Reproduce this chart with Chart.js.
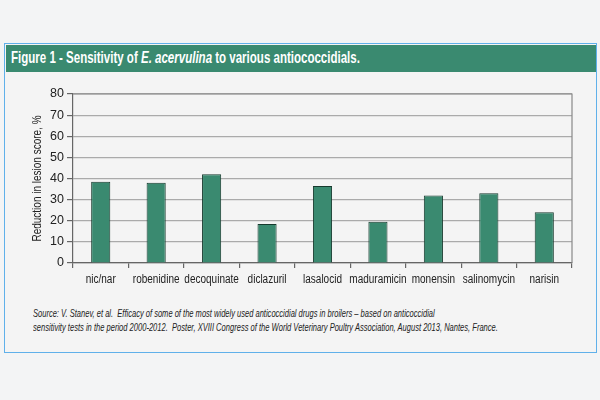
<!DOCTYPE html>
<html><head><meta charset="utf-8">
<script src="https://cdn.jsdelivr.net/npm/chart.js@4"></script>
<style>
html,body{margin:0;padding:0;width:600px;height:400px;background:#f3f4f5;overflow:hidden}
#panel{position:absolute;left:4px;top:43px;width:593px;height:310px;border:1.5px solid #5fb0ea;background:#f4f4f4;box-sizing:border-box}
#head{position:absolute;left:5.5px;top:44.5px;width:590px;height:27px;background:#3a8a70}
.sx{position:absolute;white-space:nowrap;transform-origin:0 50%}
#htxt{left:11px;top:58px;transform:translateY(-50%);color:#fff;font:bold 17px 'Liberation Sans',Arial,sans-serif;line-height:20px}
.src{left:33px;font:italic 11px 'Liberation Sans',Arial,sans-serif;line-height:14px;color:#222}
#wrap{position:absolute;left:0;top:0;width:600px;height:400px}
</style></head>
<body>
<div id="panel"></div>
<div id="head"></div>
<div id="htxt" class="sx">Figure 1 - Sensitivity of <i>E. acervulina</i> to various antiococcidials.</div>
<div id="s1" class="sx src" style="top:306px">Source: V. Stanev, et al.&nbsp; Efficacy of some of the most widely used anticoccidial drugs in broilers – based on anticoccidial</div>
<div id="s2" class="sx src" style="top:320px">sensitivity tests in the period 2000-2012.&nbsp; Poster, XVIII Congress of the World Veterinary Poultry Association, August 2013, Nantes, France.</div>
<div id="wrap"><canvas id="c" width="600" height="400"></canvas></div>
<script>
const categories = ['nic/nar','robenidine','decoquinate','diclazuril','lasalocid','maduramicin','monensin','salinomycin','narisin'];
const reduction = [38.5, 38, 42, 18.5, 36.5, 19.5, 32, 33, 24];
const yTitle = 'Reduction in lesion score, %';
const FONT = "'Liberation Sans',Arial,sans-serif";
const CONDENSE = 0.8;

function fitWidth(id, target, extra){
  const el = document.getElementById(id);
  const w = el.scrollWidth;
  el.style.transform = (extra||'') + ' scaleX(' + (target / w) + ')';
}
fitWidth('htxt', 349, 'translateY(-50%)');
fitWidth('s1', 402);
fitWidth('s2', 465);

const frame = {
  id:'frame',
  afterDatasetsDraw(chart){
    const {ctx, chartArea:a} = chart;
    ctx.save();
    ctx.strokeStyle='#888'; ctx.lineWidth=1.2;
    ctx.beginPath();
    ctx.moveTo(a.left, a.top); ctx.lineTo(a.right, a.top); ctx.lineTo(a.right, a.bottom);
    ctx.stroke();
    ctx.restore();
  },
  afterDraw(chart){
    const {ctx, chartArea:a, scales} = chart;
    ctx.save();
    ctx.fillStyle='#222';
    ctx.textAlign='center'; ctx.textBaseline='middle';
    // condensed category labels at the x scale's tick positions
    ctx.font = '12.5px ' + FONT;
    categories.forEach((lab, i) => {
      const x = scales.x.getPixelForTick(i);
      ctx.save();
      ctx.translate(x, a.bottom + 16.5);
      ctx.scale(CONDENSE, 1);
      ctx.fillText(lab, 0, 0);
      ctx.restore();
    });
    // condensed y title
    ctx.font = '12.5px ' + FONT;
    ctx.translate(37.5, (a.top + a.bottom) / 2);
    ctx.rotate(-Math.PI / 2);
    ctx.scale(CONDENSE, 1);
    ctx.fillText(yTitle, 0, 0);
    ctx.restore();
  }
};

new Chart(document.getElementById('c'), {
  type:'bar',
  data:{labels:categories, datasets:[{data:reduction, backgroundColor:'#3a8a70', borderColor:'#173a2e', borderWidth:1, barPercentage:0.345, categoryPercentage:1}]},
  options:{
    responsive:false, animation:false,
    layout:{padding:{left:0, top:94, right:28, bottom:0}},
    plugins:{legend:{display:false}, tooltip:{enabled:false}},
    scales:{
      x:{
        grid:{offset:true, drawOnChartArea:false, color:'#666', tickLength:5, lineWidth:1.2},
        border:{color:'#666', width:1.2},
        ticks:{font:{family:FONT, size:11}, color:'rgba(0,0,0,0)', maxRotation:0, minRotation:0, autoSkip:false},
        afterFit(ax){ ax.height = 137; }
      },
      y:{
        min:0, max:80,
        grid:{color:'#aaa', lineWidth:1.2, tickLength:6, tickColor:'#666'},
        border:{color:'#666', width:1.2},
        ticks:{stepSize:10, font:{family:FONT, size:12.5}, color:'#222', padding:3},
        afterFit(ax){ ax.width = 73; }
      }
    }
  },
  plugins:[frame]
});
</script>
</body></html>
